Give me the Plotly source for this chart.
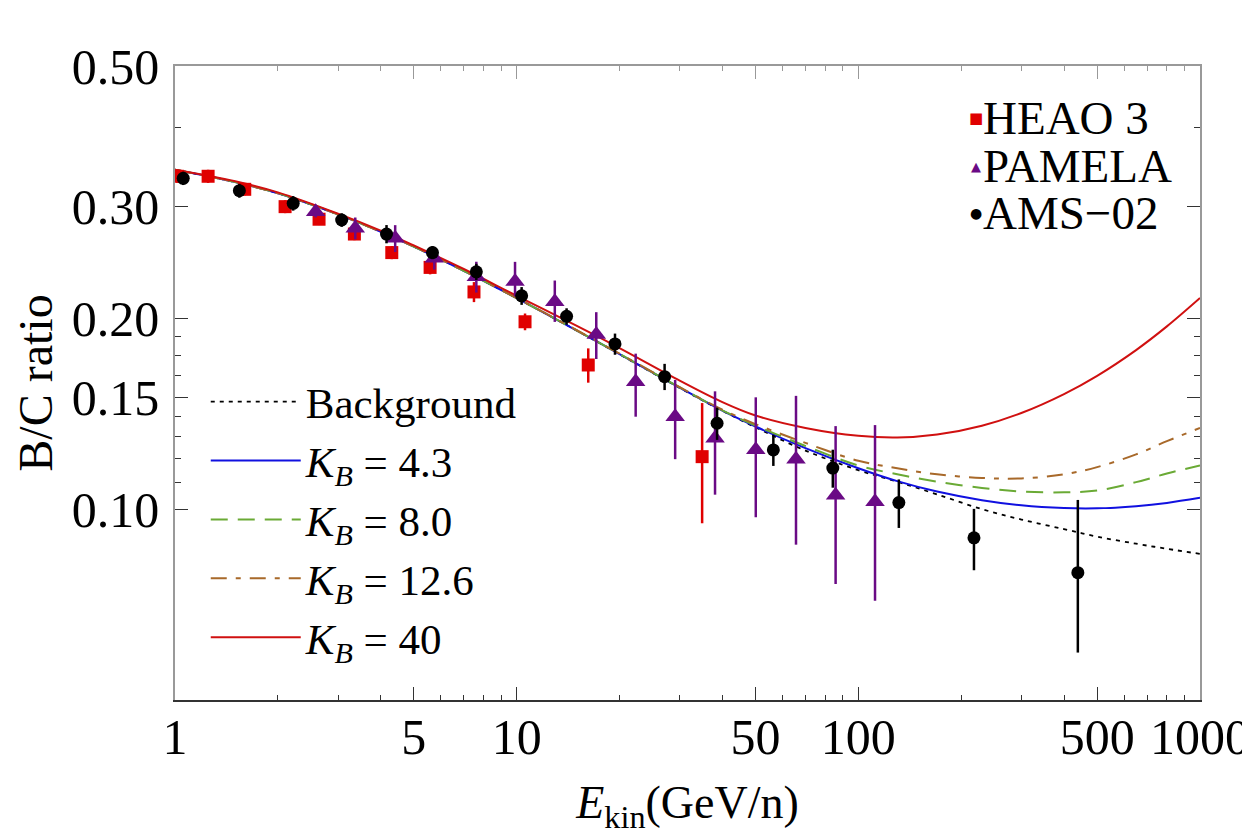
import numpy as np
import plotly.graph_objects as go

# ---------------- data ----------------
E_grid = [1, 1.5, 2, 3, 4, 5, 7, 10, 15, 20, 30, 40, 50, 70, 100, 130, 170, 230, 300, 400, 500, 650, 800, 1000]
bc_background = [0.343, 0.328, 0.315, 0.2917, 0.2739, 0.2595, 0.2377, 0.2152, 0.1913, 0.1755, 0.1553, 0.1429,
                 0.1346, 0.1237, 0.1152, 0.1105, 0.1055, 0.1000, 0.0963, 0.0930, 0.0905, 0.0882, 0.0866, 0.0850]
bc_k43 = [0.343, 0.328, 0.315, 0.2917, 0.2739, 0.2595, 0.2377, 0.2152, 0.1913, 0.1756, 0.1555, 0.1430,
          0.1350, 0.1248, 0.1160, 0.1107, 0.1066, 0.1033, 0.1014, 0.1004, 0.1003, 0.1011, 0.1023, 0.1042]
bc_k80 = [0.343, 0.328, 0.315, 0.2917, 0.2739, 0.2595, 0.2377, 0.2152, 0.1913, 0.1757, 0.1556, 0.1432,
          0.1355, 0.1258, 0.1172, 0.1135, 0.1105, 0.1080, 0.1066, 0.1063, 0.1070, 0.1103, 0.1138, 0.1172]
bc_k126 = [0.343, 0.328, 0.315, 0.2917, 0.2739, 0.2595, 0.2377, 0.2153, 0.1915, 0.1759, 0.1558, 0.1435,
           0.1362, 0.1272, 0.1192, 0.1160, 0.1135, 0.1120, 0.1118, 0.1135, 0.1165, 0.1220, 0.1280, 0.1343]
bc_k40 = [0.343, 0.329, 0.316, 0.2925, 0.2750, 0.2605, 0.2392, 0.2170, 0.1945, 0.1795, 0.1595, 0.1475,
          0.1405, 0.1343, 0.1305, 0.1297, 0.1311, 0.1354, 0.1418, 0.1519, 0.1623, 0.1782, 0.1942, 0.2153]

heao_E = [1.016, 1.25, 1.60, 2.10, 2.64, 3.35, 4.31, 5.58, 7.5, 10.58, 16.2, 34.9]
heao_bc = [0.335, 0.335, 0.3195, 0.300, 0.2866, 0.2716, 0.2539, 0.2406, 0.2201, 0.1975, 0.1688, 0.121]
heao_err = [0.008, 0.008, 0.007, 0.007, 0.006, 0.006, 0.006, 0.006, 0.008, 0.006, 0.0105, 0.026]

pamela_E = [2.58, 3.37, 4.41, 5.74, 7.62, 9.89, 12.93, 17.1, 22.3, 29.1, 38.07, 50.1, 65.7, 85.8, 111.9]
pamela_bc = [0.2945, 0.2774, 0.2675, 0.2487, 0.2326, 0.2285, 0.2124, 0.1885, 0.1589, 0.1399,
             0.1294, 0.1241, 0.1199, 0.1052, 0.1027]
pamela_err_up = [0.006, 0.011, 0.013, 0.010, 0.013, 0.017, 0.017, 0.016, 0.017, 0.020,
                 0.024, 0.026, 0.031, 0.030, 0.033]
pamela_err_dn = [0.006, 0.011, 0.013, 0.010, 0.013, 0.012, 0.015, 0.016, 0.019, 0.020,
                 0.024, 0.027, 0.032, 0.029, 0.031]

ams_E = [1.057, 1.543, 2.218, 3.075, 4.16, 5.67, 7.62, 10.34, 14.0, 19.4, 27.1, 38.6, 56.4, 84.2,
         131.4, 218, 439]
ams_bc = [0.3325, 0.3179, 0.3037, 0.2858, 0.2716, 0.2539, 0.2368, 0.217, 0.2014, 0.1822, 0.1618,
          0.1366, 0.124, 0.1161, 0.1024, 0.0901, 0.0794]
ams_err_up = [0.008, 0.008, 0.008, 0.007, 0.009, 0.006, 0.007, 0.007, 0.006, 0.007, 0.0077,
              0.008, 0.007, 0.008, 0.009, 0.010, 0.024]
ams_err_dn = [0.008, 0.008, 0.008, 0.007, 0.009, 0.006, 0.007, 0.007, 0.006, 0.007, 0.0077,
              0.008, 0.007, 0.008, 0.009, 0.010, 0.020]

x_ticks = [1, 5, 10, 50, 100, 500, 1000]
x_minor = [2, 3, 4, 6, 7, 8, 9, 20, 30, 40, 60, 70, 80, 90, 200, 300, 400, 600, 700, 800, 900]
y_ticks = [0.10, 0.15, 0.20, 0.30, 0.50]
y_ticktext = ["0.10", "0.15", "0.20", "0.30", "0.50"]
y_minor = [0.11, 0.12, 0.13, 0.14, 0.1625, 0.175, 0.1875, 0.4]

# ---------------- figure ----------------
FONT = "Liberation Serif, Times New Roman, serif"
fig = go.Figure()

curves = [
    ("Background", bc_background, "black", "4px,5px", 1.8),
    ("<i>K</i><sub><i>B</i></sub> = 4.3", bc_k43, "#1010e0", "solid", 2),
    ("<i>K</i><sub><i>B</i></sub> = 8.0", bc_k80, "#6aaa35", "17px,10px", 2),
    ("<i>K</i><sub><i>B</i></sub> = 12.6", bc_k126, "#a8692a", "16px,9px,5px,9px", 2),
    ("<i>K</i><sub><i>B</i></sub> = 40", bc_k40, "#d01010", "solid", 2),
]
for name, vals, col, dash, w in curves:
    fig.add_trace(go.Scatter(x=E_grid, y=vals, mode="lines", name=name, legend="legend2",
                             line=dict(color=col, dash=dash, width=w, shape="spline", smoothing=1)))

series = [
    ("HEAO 3", heao_E, heao_bc, heao_err, heao_err, "square", 13, "#e00000", "\u25a0", 15),
    ("PAMELA", pamela_E, pamela_bc, pamela_err_up, pamela_err_dn, "triangle-up", 17, "#6a0a85", "\u25b2", 13),
    ("AMS\u221202", ams_E, ams_bc, ams_err_up, ams_err_dn, "circle", 13, "black", "\u25cf", 14),
]
for name, ex, ey, eup, edn, sym, size, col, glyph, gsize in series:
    fig.add_trace(go.Scatter(x=ex, y=ey, mode="markers", name=name, showlegend=False,
                             marker=dict(symbol=sym, size=size, color=col),
                             error_y=dict(type="data", array=eup, arrayminus=edn,
                                          color=col, thickness=2.5, width=0)))

# empty trace to attach the top frame axis
fig.add_trace(go.Scatter(x=[], y=[], xaxis="x2", showlegend=False))

# marker key (top right), laid out as text so its line spacing matches
key_y = [0.918, 0.842, 0.768]
for (name, *_rest), yk in zip(series, key_y):
    col, glyph, gsize = _rest[6], _rest[7], _rest[8]
    fig.add_annotation(xref="paper", yref="paper", x=0.781, y=yk, xanchor="center", yanchor="middle",
                       text=glyph, showarrow=False, font=dict(size=gsize, color=col, family="DejaVu Sans"))
    fig.add_annotation(xref="paper", yref="paper", x=0.786, y=yk, xanchor="left", yanchor="middle",
                       text=name, showarrow=False, font=dict(size=47, color="black", family=FONT))

tickfont = dict(family=FONT, size=50, color="black")
fig.update_layout(
    width=1250, height=837,
    # the page body adds an 8px offset, so the margins compensate for it
    margin=dict(l=167, r=58, t=58, b=145),
    paper_bgcolor="white", plot_bgcolor="white",
    font=dict(family=FONT, color="black"),
    showlegend=True,
    xaxis=dict(type="log", range=[0, 3], tickvals=x_ticks, ticktext=[str(v) for v in x_ticks],
               ticks="inside", ticklen=13, tickwidth=1, tickcolor="#333", automargin=False,
               showline=True, linecolor="#333", linewidth=1.5, mirror=False,
               showgrid=False, zeroline=False, tickfont=tickfont, ticklabelstandoff=-8,
               minor=dict(tickvals=x_minor, ticks="inside", ticklen=5, tickcolor="#333", showgrid=False),
               title=dict(text="<i>E</i><sub>kin</sub>(GeV/n)", font=dict(family=FONT, size=46),
                          standoff=22)),
    xaxis2=dict(type="log", range=[0, 3], overlaying="x", side="top", tickvals=x_ticks,
                showticklabels=False, ticks="inside", ticklen=13, tickcolor="#999", automargin=False,
                showline=True, linecolor="#999", linewidth=1.5, showgrid=False, zeroline=False,
                minor=dict(tickvals=x_minor, ticks="inside", ticklen=5, tickcolor="#999", showgrid=False)),
    yaxis=dict(type="log", range=[np.log10(0.05), np.log10(0.5)], tickvals=y_ticks, ticktext=y_ticktext,
               ticks="inside", ticklen=13, tickwidth=1, tickcolor="#333", automargin=False,
               showline=True, linecolor="#999", linewidth=1.5, mirror="ticks",
               showgrid=False, zeroline=False, tickfont=tickfont, ticklabelstandoff=4,
               minor=dict(tickvals=y_minor, ticks="inside", ticklen=6, tickcolor="#333", showgrid=False),
               title=dict(text="B/C ratio", font=dict(family=FONT, size=48), standoff=4)),
    legend2=dict(x=0.03, y=0.525, xanchor="left", yanchor="top", bgcolor="rgba(0,0,0,0)",
                 font=dict(family=FONT, size=43, color="black"), itemwidth=90,
                 tracegroupgap=0),
)

fig.write_html("out.html")
